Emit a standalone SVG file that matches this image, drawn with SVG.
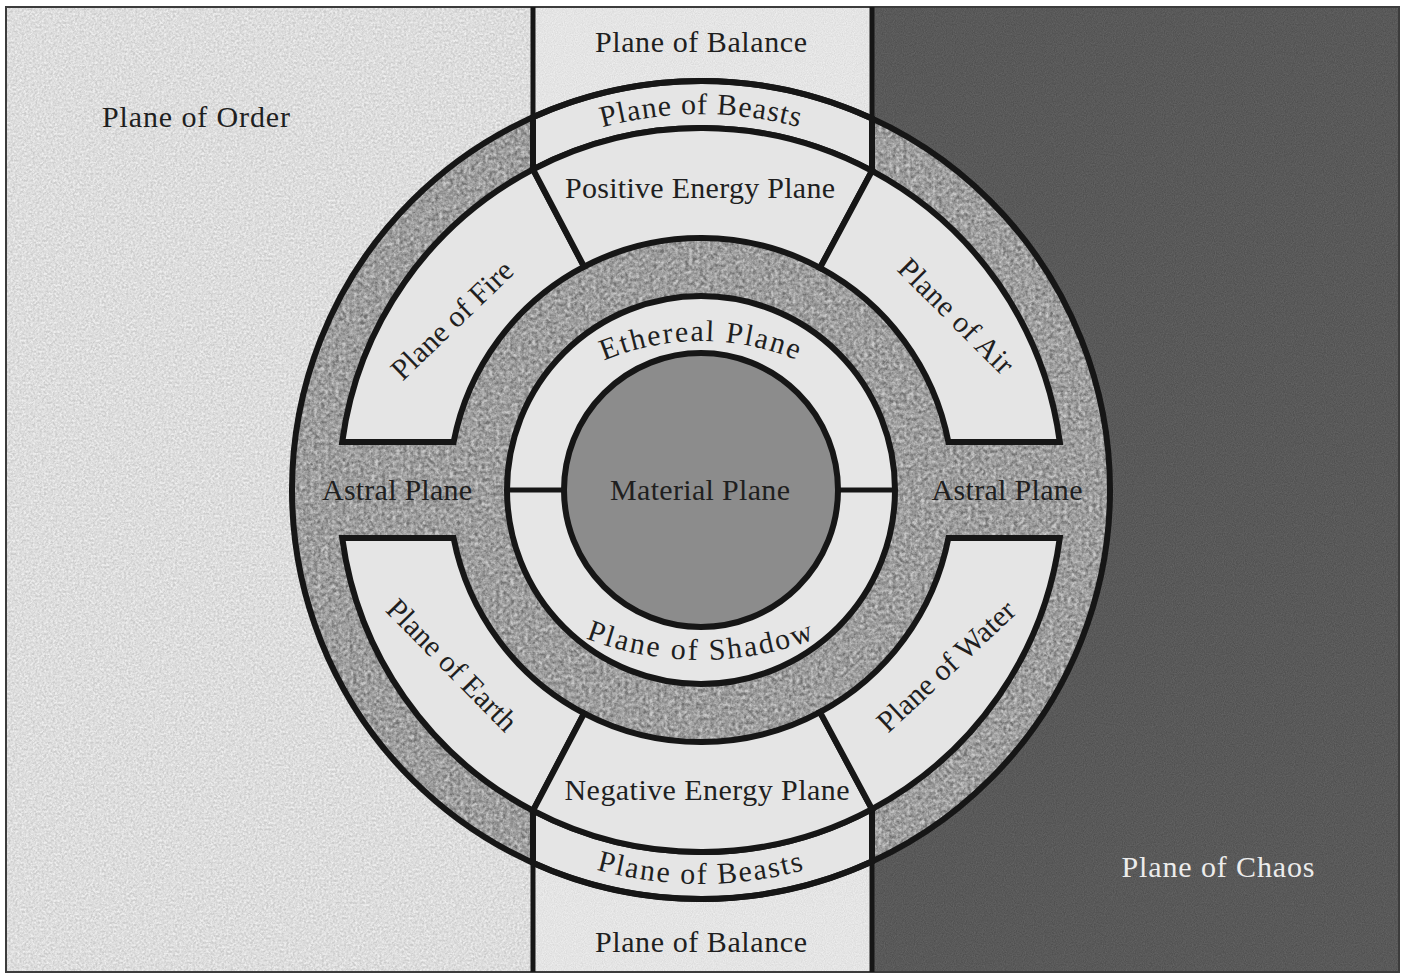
<svg xmlns="http://www.w3.org/2000/svg" width="1401" height="975" viewBox="0 0 1401 975">
<defs>
<style>
text { font-family: "Liberation Serif", "Times New Roman", serif; font-size: 30px; fill: #1f1f1f; }
.ln { stroke: #161616; stroke-width: 6; fill: none; stroke-linejoin: miter; stroke-linecap: butt; }
.thin { stroke: #161616; stroke-width: 5; fill: none; }
.pl { fill: #e5e5e5; stroke: #161616; stroke-width: 6; stroke-linejoin: miter; }
.mid { text-anchor: middle; }
</style>
<filter id="paper" x="0" y="0" width="1" height="1" color-interpolation-filters="sRGB">
  <feTurbulence type="fractalNoise" baseFrequency="0.45" numOctaves="3" seed="2" result="n"/>
  <feColorMatrix in="n" type="matrix" values="1 1 1 0 -1  1 1 1 0 -1  1 1 1 0 -1  0 0 0 0 1" result="g"/>
  <feComposite in="g" in2="SourceGraphic" operator="in" result="gi"/>
  <feComposite in="SourceGraphic" in2="gi" operator="arithmetic" k1="0" k2="0.86" k3="0.14" k4="0"/>
</filter>
<filter id="grain" x="0" y="0" width="1" height="1" color-interpolation-filters="sRGB">
  <feTurbulence type="fractalNoise" baseFrequency="0.9" numOctaves="2" seed="5" result="n"/>
  <feColorMatrix in="n" type="matrix" values="1 1 1 0 -1  1 1 1 0 -1  1 1 1 0 -1  0 0 0 0 1" result="g"/>
  <feComposite in="g" in2="SourceGraphic" operator="in" result="gi"/>
  <feComposite in="SourceGraphic" in2="gi" operator="arithmetic" k1="0" k2="0.93" k3="0.07" k4="0"/>
</filter>
<filter id="astralTex" x="0" y="0" width="1" height="1" color-interpolation-filters="sRGB">
  <feTurbulence type="fractalNoise" baseFrequency="0.28" numOctaves="4" seed="11" result="n"/>
  <feColorMatrix in="n" type="matrix" values="0.9 0.9 0.9 0 -0.85  0.9 0.9 0.9 0 -0.85  0.9 0.9 0.9 0 -0.85  0 0 0 0 1" result="g"/>
  <feComposite in="g" in2="SourceGraphic" operator="in" result="gi"/>
  <feComposite in="SourceGraphic" in2="gi" operator="arithmetic" k1="0" k2="0.65" k3="0.35" k4="0"/>
</filter>
<path id="arcBeastsTop" d="M 325 490 A 376 376 0 0 1 1077 490"/>
<path id="arcBeastsBot" d="M 307 490 A 394 394 0 0 0 1095 490"/>
<path id="arcEthereal" d="M 451 591 A 250 250 0 0 1 951 591"/>
<path id="arcShadow" d="M 381 340 A 320 320 0 0 0 1021 340"/>
</defs>

<rect x="0" y="0" width="1401" height="975" fill="#ffffff"/>

<g id="plane-of-order">
  <rect x="6" y="7" width="527" height="965" fill="#ececec" filter="url(#paper)"/>
  <text class="mid" x="196" y="127" textLength="188" lengthAdjust="spacing">Plane of Order</text>
</g>

<g id="plane-of-chaos">
  <rect x="872" y="7" width="527" height="965" fill="#565656" filter="url(#grain)"/>
  <text class="mid" x="1218" y="877" textLength="193" lengthAdjust="spacing" style="fill:#ececec">Plane of Chaos</text>
</g>

<g id="plane-of-balance">
  <rect x="533" y="7" width="339" height="965" fill="#ececec" filter="url(#grain)"/>
  <text class="mid" x="701" y="52" textLength="212" lengthAdjust="spacing">Plane of Balance</text>
  <text class="mid" x="701" y="952" textLength="212" lengthAdjust="spacing">Plane of Balance</text>
</g>

<rect x="6" y="7" width="1393" height="965" fill="none" stroke="#3c3c3c" stroke-width="2"/>

<g id="astral-plane">
  <circle cx="701" cy="490" r="409" fill="#adadad" filter="url(#astralTex)"/>
  <text class="mid" x="397" y="500" textLength="150" lengthAdjust="spacing">Astral Plane</text>
  <text class="mid" x="1007" y="500" textLength="151" lengthAdjust="spacing">Astral Plane</text>
</g>

<g id="plane-of-beasts">
  <path class="pl" d="M 533 117.1 A 409 409 0 0 1 872 118.5 L 872 170.9 A 362 362 0 0 0 533 169.3 Z"/>
  <path class="pl" d="M 533 862.9 A 409 409 0 0 0 872 861.5 L 872 809.1 A 362 362 0 0 1 533 810.7 Z"/>
  <text style="letter-spacing:1px"><textPath href="#arcBeastsTop" startOffset="50%" text-anchor="middle">Plane of Beasts</textPath></text>
  <text style="letter-spacing:1.8px"><textPath href="#arcBeastsBot" startOffset="50%" text-anchor="middle">Plane of Beasts</textPath></text>
</g>

<g id="plane-of-fire">
  <path class="pl" d="M 342.2 442 A 362 362 0 0 1 533 169.3 L 584.1 266.7 A 252 252 0 0 0 453.6 442 Z"/>
  <text class="mid" transform="translate(452 320) rotate(-44)" x="0" y="10" textLength="157" lengthAdjust="spacing">Plane of Fire</text>
</g>

<g id="positive-energy-plane">
  <path class="pl" d="M 533 169.3 A 362 362 0 0 1 872 170.9 L 820 267.9 A 252 252 0 0 0 584.1 266.7 Z"/>
  <text class="mid" x="700" y="198" textLength="270" lengthAdjust="spacing">Positive Energy Plane</text>
</g>

<g id="plane-of-air">
  <path class="pl" d="M 872 170.9 A 362 362 0 0 1 1059.8 442 L 948.4 442 A 252 252 0 0 0 820 267.9 Z"/>
  <text class="mid" transform="translate(956 316) rotate(45)" x="0" y="10" textLength="150" lengthAdjust="spacing">Plane of Air</text>
</g>

<g id="plane-of-earth">
  <path class="pl" d="M 342.2 538 A 362 362 0 0 0 533 810.7 L 584.1 713.3 A 252 252 0 0 1 453.6 538 Z"/>
  <text class="mid" transform="translate(452 665) rotate(45.5)" x="0" y="10" textLength="172" lengthAdjust="spacing">Plane of Earth</text>
</g>

<g id="negative-energy-plane">
  <path class="pl" d="M 533 810.7 A 362 362 0 0 0 872 809.1 L 820 712.1 A 252 252 0 0 1 584.1 713.3 Z"/>
  <text class="mid" x="707" y="800" textLength="285" lengthAdjust="spacing">Negative Energy Plane</text>
</g>

<g id="plane-of-water">
  <path class="pl" d="M 872 809.1 A 362 362 0 0 0 1059.8 538 L 948.4 538 A 252 252 0 0 1 820 712.1 Z"/>
  <text class="mid" transform="translate(946 666) rotate(-43)" x="0" y="10" textLength="177" lengthAdjust="spacing">Plane of Water</text>
</g>

<g id="connectors">
  <circle class="ln" cx="701" cy="490" r="409"/>
  <line class="thin" x1="533" y1="7" x2="533" y2="118"/>
  <line class="thin" x1="872" y1="7" x2="872" y2="119"/>
  <line class="thin" x1="533" y1="862" x2="533" y2="972"/>
  <line class="thin" x1="872" y1="861" x2="872" y2="972"/>
</g>

<g id="ethereal-plane">
  <circle cx="701" cy="490" r="194" fill="#e6e6e6" stroke="#161616" stroke-width="6"/>
  <line class="thin" x1="505" y1="490" x2="566" y2="490"/>
  <line class="thin" x1="836" y1="490" x2="897" y2="490"/>
  <text style="letter-spacing:1.8px"><textPath href="#arcEthereal" startOffset="50%" text-anchor="middle">Ethereal Plane</textPath></text>
</g>

<g id="plane-of-shadow">
  <text style="letter-spacing:2.2px"><textPath href="#arcShadow" startOffset="50%" text-anchor="middle">Plane of Shadow</textPath></text>
</g>

<g id="material-plane">
  <circle cx="701" cy="490" r="137" fill="#8c8c8c" stroke="#161616" stroke-width="6"/>
  <text class="mid" x="700" y="500" textLength="180" lengthAdjust="spacing">Material Plane</text>
</g>
</svg>
